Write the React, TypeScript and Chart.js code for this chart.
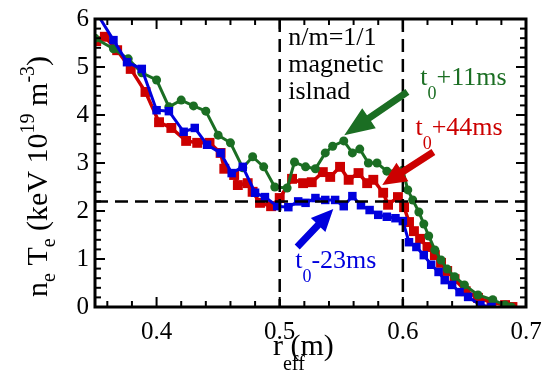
import React, { useEffect, useRef } from 'react';
import { Chart, registerables } from 'chart.js';

Chart.register(...registerables);

const FONT = '"Liberation Serif"';
const BASE = 20; // request the face at a small size, then scale the context

const GREEN = '#1b6e23';
const RED = '#cc0000';
const BLUE = '#0000dd';

// t0+11ms (green circles)
const greenR = [0.350, 0.365, 0.377, 0.388, 0.400, 0.410, 0.420, 0.430, 0.440, 0.450, 0.460, 0.470, 0.478, 0.487, 0.496, 0.506, 0.512, 0.521, 0.529, 0.537, 0.543, 0.552, 0.559, 0.565, 0.572, 0.579, 0.587, 0.600, 0.604, 0.608, 0.613, 0.617, 0.621, 0.626, 0.631, 0.636, 0.642, 0.650, 0.661, 0.673, 0.683, 0.688];
const greenV = [5.60, 5.38, 5.17, 4.88, 4.73, 4.17, 4.31, 4.19, 4.08, 3.58, 3.42, 2.90, 3.13, 2.92, 2.50, 2.48, 3.02, 2.92, 2.88, 3.21, 3.35, 3.46, 3.21, 3.29, 3.00, 3.00, 2.83, 2.85, 2.44, 2.23, 1.98, 1.73, 1.48, 1.19, 0.98, 0.79, 0.63, 0.46, 0.25, 0.15, 0.04, 0.0];

// t0+44ms (red squares)
const redR = [0.351, 0.358, 0.368, 0.379, 0.391, 0.402, 0.412, 0.424, 0.433, 0.443, 0.452, 0.455, 0.463, 0.466, 0.474, 0.478, 0.484, 0.493, 0.500, 0.510, 0.519, 0.526, 0.535, 0.541, 0.549, 0.556, 0.564, 0.571, 0.576, 0.584, 0.588, 0.596, 0.601, 0.605, 0.609, 0.614, 0.620, 0.626, 0.631, 0.636, 0.642, 0.651, 0.661, 0.672, 0.683, 0.689];
const redV = [5.54, 5.63, 5.35, 4.96, 4.48, 3.85, 3.73, 3.46, 3.42, 3.42, 3.21, 2.88, 2.75, 2.54, 2.58, 2.40, 2.17, 2.10, 2.27, 2.67, 2.58, 2.60, 2.81, 2.71, 2.92, 2.65, 2.79, 2.58, 2.65, 2.38, 2.13, 2.29, 2.08, 1.77, 1.58, 1.42, 1.25, 1.08, 0.92, 0.75, 0.58, 0.33, 0.19, 0.10, 0.04, 0.0];

// t0-23ms (blue squares)
const blueR = [0.352, 0.365, 0.376, 0.388, 0.400, 0.410, 0.422, 0.431, 0.441, 0.452, 0.461, 0.470, 0.480, 0.488, 0.498, 0.507, 0.515, 0.521, 0.529, 0.537, 0.545, 0.552, 0.559, 0.566, 0.573, 0.580, 0.587, 0.594, 0.600, 0.605, 0.611, 0.617, 0.623, 0.629, 0.634, 0.640, 0.646, 0.653, 0.663, 0.672];
const blueV = [6.10, 5.56, 5.10, 4.96, 4.10, 4.08, 3.65, 3.73, 3.38, 3.21, 2.79, 2.92, 2.38, 2.29, 2.10, 2.08, 2.20, 2.17, 2.27, 2.23, 2.23, 2.10, 2.31, 2.12, 2.02, 1.92, 1.88, 1.85, 1.79, 1.35, 1.25, 1.08, 0.88, 0.73, 0.56, 0.46, 0.31, 0.21, 0.04, 0.0];

const xTicks = [0.4, 0.5, 0.6, 0.7];
const xTickLabels = ['0.4', '0.5', '0.6', '0.7'];
const yTicks = [0, 1, 2, 3, 4, 5, 6];
const yTickLabels = ['0', '1', '2', '3', '4', '5', '6'];
const islandEdges = [0.5, 0.6];
const refLevel = 2.2;

type Part = { t: string; s: number; dy?: number; adv?: boolean };

function drawText(ctx: CanvasRenderingContext2D, t: string, size: number, x: number, y: number, color: string, align: CanvasTextAlign = 'left', baseline: CanvasTextBaseline = 'alphabetic'): number {
  const k = size / BASE;
  ctx.save();
  ctx.translate(x, y);
  ctx.scale(k, k);
  ctx.font = `${BASE}px ${FONT}`;
  ctx.fillStyle = color;
  ctx.textAlign = align;
  ctx.textBaseline = baseline;
  ctx.fillText(t, 0, 0);
  const w = ctx.measureText(t).width * k;
  ctx.restore();
  return w;
}

function drawRich(ctx: CanvasRenderingContext2D, parts: Part[], x0: number, y0: number, color: string) {
  let x = x0;
  for (const p of parts) {
    const w = drawText(ctx, p.t, p.s, x, y0 + (p.dy || 0), color);
    if (p.adv !== false) x += w;
  }
}

function drawArrow(ctx: CanvasRenderingContext2D, x1: number, y1: number, x2: number, y2: number, color: string, shaft: number, headLen: number, headHalf: number) {
  const dx = x2 - x1, dy = y2 - y1;
  const len = Math.hypot(dx, dy);
  const ux = dx / len, uy = dy / len;
  const nx = -uy, ny = ux;
  const bx = x2 - ux * headLen, by = y2 - uy * headLen;
  ctx.fillStyle = color;
  ctx.beginPath();
  ctx.moveTo(x1 + nx * shaft / 2, y1 + ny * shaft / 2);
  ctx.lineTo(bx + nx * shaft / 2, by + ny * shaft / 2);
  ctx.lineTo(bx + nx * headHalf, by + ny * headHalf);
  ctx.lineTo(x2, y2);
  ctx.lineTo(bx - nx * headHalf, by - ny * headHalf);
  ctx.lineTo(bx - nx * shaft / 2, by - ny * shaft / 2);
  ctx.lineTo(x1 - nx * shaft / 2, y1 - ny * shaft / 2);
  ctx.closePath();
  ctx.fill();
}

const overlay = {
  id: 'overlay',
  afterDatasetsDraw(chart: any) {
    const { ctx, chartArea: a, scales } = chart;
    const x = scales.x, y = scales.y;
    const X = (v: number) => x.getPixelForValue(v);
    const Y = (v: number) => y.getPixelForValue(v);
    const line = (x1: number, y1: number, x2: number, y2: number) => {
      ctx.beginPath();
      ctx.moveTo(x1, y1);
      ctx.lineTo(x2, y2);
      ctx.stroke();
    };
    ctx.save();
    ctx.strokeStyle = '#000';
    ctx.lineWidth = 2.5;
    ctx.setLineDash([13, 7]);
    islandEdges.forEach((v) => line(X(v), a.top, X(v), a.bottom));
    line(a.left, Y(refLevel), a.right, Y(refLevel));
    ctx.setLineDash([]);

    ctx.lineWidth = 2;
    for (let i = 0; i <= 30; i++) {
      const py = Y(i * 0.2);
      const L = i % 5 === 0 ? 10 : 6;
      line(a.left, py, a.left + L, py);
      line(a.right, py, a.right - L, py);
    }
    for (let i = 18; i <= 35; i++) {
      const px = X(i * 0.02);
      const L = i % 5 === 0 ? 10 : 6;
      line(px, a.bottom, px, a.bottom - L);
      line(px, a.top, px, a.top + L);
    }
    ctx.lineWidth = 3;
    ctx.strokeRect(a.left, a.top, a.right - a.left, a.bottom - a.top);

    // tick labels
    xTicks.forEach((v, i) => drawText(ctx, xTickLabels[i], 25, X(v), a.bottom + 32, '#000', 'center'));
    yTicks.forEach((v, i) => drawText(ctx, yTickLabels[i], 25, a.left - 6, Y(v), '#000', 'right', 'middle'));

    drawRich(ctx, [{ t: 'n/m=1/1', s: 26 }], X(0.5069), Y(5.46), '#000');
    drawRich(ctx, [{ t: 'magnetic', s: 26 }], X(0.5069), Y(4.90), '#000');
    drawRich(ctx, [{ t: 'islnad', s: 26 }], X(0.5069), Y(4.33), '#000');

    drawRich(ctx, [{ t: 't', s: 26 }, { t: '0', s: 18, dy: 14 }, { t: '+11ms', s: 26 }], X(0.6142), Y(4.625), GREEN);
    drawRich(ctx, [{ t: 't', s: 26 }, { t: '0', s: 18, dy: 14 }, { t: '+44ms', s: 26 }], X(0.6102), Y(3.58), RED);
    drawRich(ctx, [{ t: 't', s: 26 }, { t: '0', s: 18, dy: 14 }, { t: '-23ms', s: 26 }], X(0.5126), Y(0.81), BLUE);

    drawArrow(ctx, X(0.6037), Y(4.48), X(0.5524), Y(3.58), GREEN, 7, 30, 12);
    drawArrow(ctx, X(0.6248), Y(3.23), X(0.5833), Y(2.54), RED, 7, 24, 11);
    drawArrow(ctx, X(0.5142), Y(1.25), X(0.5435), Y(2.04), BLUE, 7, 22, 10);

    drawRich(ctx, [{ t: 'r', s: 30 }, { t: 'eff', s: 20, dy: 15, adv: false }, { t: ' (m)', s: 30 }], 273, 355, '#000');

    ctx.translate(47, 297);
    ctx.rotate(-Math.PI / 2);
    drawRich(ctx, [
      { t: 'n', s: 30 },
      { t: 'e', s: 20, dy: 8 },
      { t: ' T', s: 30 },
      { t: 'e', s: 20, dy: 8 },
      { t: ' (keV 10', s: 30 },
      { t: '19', s: 20, dy: -13 },
      { t: ' m', s: 30 },
      { t: '-3', s: 20, dy: -13 },
      { t: ')', s: 30 },
    ], 0, 0, '#000');
    ctx.restore();
  },
};

export default function App() {
  const ref = useRef<HTMLCanvasElement | null>(null);
  useEffect(() => {
    if (!ref.current) return;
    const scratch = document.createElement('canvas');
    scratch.width = 200;
    scratch.height = 60;
    const sc = scratch.getContext('2d');
    if (sc) {
      sc.font = `${BASE}px ${FONT}`;
      sc.fillText('Agm1 0.4 n/m', 2, 40);
    }
    const mk = (rs: number[], vs: number[]) => rs.map((r, i) => ({ x: r, y: vs[i] }));
    const chart = new Chart(ref.current, {
      type: 'line',
      data: {
        datasets: [
          { label: 't0-23ms', data: mk(blueR, blueV), borderColor: BLUE, backgroundColor: BLUE, pointBackgroundColor: BLUE, pointBorderColor: BLUE, borderWidth: 3, pointStyle: 'rect', pointRadius: 6, pointBorderWidth: 0, tension: 0 },
          { label: 't0+11ms', data: mk(greenR, greenV), borderColor: GREEN, backgroundColor: GREEN, pointBackgroundColor: GREEN, pointBorderColor: GREEN, borderWidth: 3, pointStyle: 'circle', pointRadius: 4.5, pointBorderWidth: 0, tension: 0 },
          { label: 't0+44ms', data: mk(redR, redV), borderColor: RED, backgroundColor: RED, pointBackgroundColor: RED, pointBorderColor: RED, borderWidth: 3.5, pointStyle: 'rect', pointRadius: 7, pointBorderWidth: 0, tension: 0 },
        ],
      },
      options: {
        animation: false,
        responsive: false,
        maintainAspectRatio: false,
        layout: { padding: { top: 19, right: 19, left: 0, bottom: 0 } },
        plugins: { legend: { display: false }, tooltip: { enabled: false } },
        scales: {
          x: {
            type: 'linear',
            min: 0.35,
            max: 0.7,
            grid: { display: false, drawTicks: false },
            border: { display: false },
            afterFit: (s: any) => { s.height = 68; },
            afterBuildTicks: (s: any) => { s.ticks = xTicks.map((v) => ({ value: v })); },
            ticks: { display: false },
          },
          y: {
            type: 'linear',
            min: 0,
            max: 6,
            grid: { display: false, drawTicks: false },
            border: { display: false },
            afterFit: (s: any) => { s.width = 95; },
            afterBuildTicks: (s: any) => { s.ticks = yTicks.map((v) => ({ value: v })); },
            ticks: { display: false },
          },
        },
      },
      plugins: [overlay],
    } as any);
    return () => chart.destroy();
  }, []);
  return (
    <div style={{ position: 'absolute', left: 0, top: 0 }}>
      <canvas ref={ref} width={545} height={375} style={{ width: 545, height: 375, display: 'block' }} />
    </div>
  );
}
